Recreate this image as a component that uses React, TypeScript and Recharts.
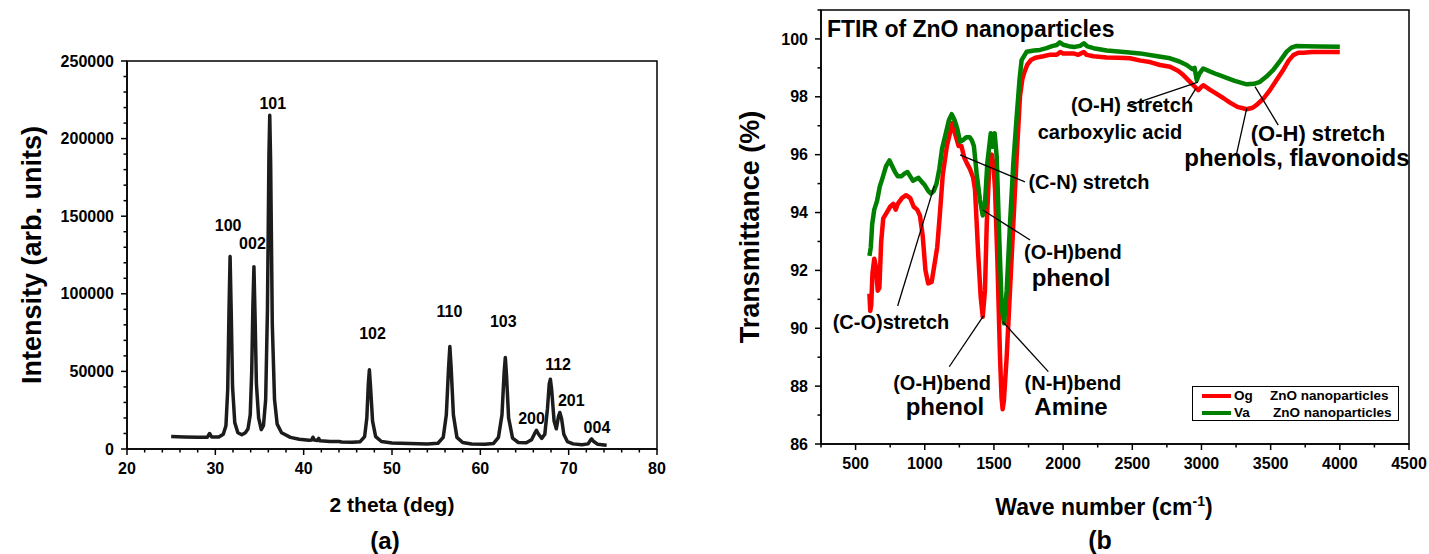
import React from "react";
import {
  ComposedChart,
  Legend,
  Line,
  ReferenceArea,
  ReferenceDot,
  ReferenceLine,
  XAxis,
  YAxis
} from "recharts";

const font = '"Liberation Sans", Arial, Helvetica, sans-serif';

// ---------- (a) XRD pattern: [2 theta (deg), intensity (arb. units)]
const xrdScan: [number, number][] = [
  [25.0, 8000], [26.5, 7700], [28.0, 7500], [29.1, 7600], [29.35, 10000], [29.6, 7700],
  [30.4, 7700], [30.9, 9500], [31.2, 15000], [31.4, 38000], [31.55, 90000], [31.67, 124000],
  [31.8, 88000], [31.95, 40000], [32.2, 17000], [32.55, 10500], [33.0, 9200], [33.4, 10500],
  [33.7, 13000], [33.95, 22000], [34.12, 50000], [34.25, 92000], [34.37, 117500], [34.5, 85000],
  [34.65, 42000], [34.9, 20000], [35.2, 12500], [35.45, 15000], [35.7, 32000], [35.9, 90000],
  [36.07, 190000], [36.16, 215000], [36.26, 185000], [36.45, 80000], [36.7, 32000], [37.0, 16000],
  [37.5, 10500], [38.5, 7500], [39.5, 6300], [40.6, 5600], [40.9, 5800], [41.05, 7600],
  [41.2, 5800], [41.55, 5500], [41.7, 6800], [41.85, 5300], [43.0, 4900], [44.0, 4800],
  [44.3, 4500], [45.5, 4300], [46.4, 4700], [46.9, 8000], [47.15, 20000], [47.32, 42000],
  [47.44, 51000], [47.57, 40000], [47.8, 18000], [48.15, 8000], [48.8, 4800], [50.0, 3900],
  [52.0, 3500], [54.0, 3300], [55.2, 3700], [55.8, 7500], [56.15, 22000], [56.4, 52000],
  [56.55, 66000], [56.7, 52000], [56.95, 22000], [57.35, 7500], [58.0, 4200], [59.0, 3200],
  [60.5, 3000], [61.5, 3600], [62.05, 7500], [62.45, 22000], [62.7, 50000], [62.83, 59000],
  [62.96, 48000], [63.2, 20000], [63.65, 7000], [64.3, 4200], [65.2, 4000], [65.8, 6000],
  [66.15, 10000], [66.35, 12000], [66.6, 9500], [66.95, 6800], [67.3, 9500], [67.6, 26000],
  [67.8, 42000], [67.93, 45000], [68.08, 38000], [68.35, 18000], [68.6, 13000], [68.85, 21000],
  [69.0, 23500], [69.2, 19500], [69.45, 9500], [69.85, 4800], [70.5, 3300], [71.5, 2800],
  [72.2, 3300], [72.45, 5600], [72.6, 6500], [72.8, 5000], [73.3, 3000], [74.0, 2600], [74.3, 2400]
];

// hkl labels and where they are printed
const xrdPeakLabels = [
  { hkl: "100", theta: 31.45, intensity: 144000 },
  { hkl: "002", theta: 34.2, intensity: 132500 },
  { hkl: "101", theta: 36.5, intensity: 222500 },
  { hkl: "102", theta: 47.8, intensity: 74500 },
  { hkl: "110", theta: 56.5, intensity: 88500 },
  { hkl: "103", theta: 62.6, intensity: 82500 },
  { hkl: "200", theta: 65.8, intensity: 20000 },
  { hkl: "112", theta: 68.8, intensity: 54500 },
  { hkl: "201", theta: 70.3, intensity: 31500 },
  { hkl: "004", theta: 73.2, intensity: 14200 }
];

const xrdMajorX = [20, 30, 40, 50, 60, 70, 80];
const xrdMinorX = [22, 24, 26, 28, 32, 34, 36, 38, 42, 44, 46, 48, 52, 54, 56, 58, 62, 64, 66, 68, 72, 74, 76, 78];
const xrdMajorY = [0, 50000, 100000, 150000, 200000, 250000];
const xrdMinorY = [
  10000, 20000, 30000, 40000, 60000, 70000, 80000, 90000, 110000, 120000,
  130000, 140000, 160000, 170000, 180000, 190000, 210000, 220000, 230000, 240000
];

// ---------- (b) FTIR: [wave number (cm-1), transmittance (%)]
const ogScan: [number, number][] = [
  [600, 91.2], [606, 90.6], [613, 90.8], [622, 91.9], [635, 92.4], [648, 92.1], [660, 91.3],
  [672, 91.4], [685, 93.0], [700, 93.8], [725, 94.0], [750, 94.2], [772, 94.3], [790, 94.1],
  [805, 94.3], [835, 94.5], [865, 94.6], [895, 94.5], [920, 94.2], [945, 94.1], [965, 93.9],
  [985, 93.2], [1005, 92.0], [1025, 91.55], [1050, 91.6], [1070, 92.2], [1090, 92.8],
  [1110, 94.0], [1130, 95.3], [1160, 96.3], [1185, 96.8], [1200, 97.1], [1220, 96.7],
  [1245, 96.3], [1265, 96.3], [1285, 95.9], [1305, 95.7], [1327, 95.5], [1350, 95.2],
  [1363, 94.8], [1387, 92.5], [1404, 91.1], [1419, 90.4], [1435, 91.3], [1448, 93.6],
  [1467, 95.7], [1484, 96.0], [1496, 95.7], [1508, 94.8], [1524, 92.5], [1544, 89.0],
  [1555, 87.6], [1563, 87.2], [1572, 87.5], [1592, 89.0], [1616, 91.3], [1640, 93.6],
  [1664, 95.9], [1688, 98.0], [1705, 98.6], [1720, 98.85], [1740, 99.1], [1767, 99.27],
  [1800, 99.35], [1857, 99.4], [1900, 99.45], [1954, 99.45], [1980, 99.55], [2000, 99.5],
  [2030, 99.5], [2074, 99.5], [2110, 99.45], [2150, 99.55], [2170, 99.45], [2220, 99.4],
  [2315, 99.36], [2400, 99.35], [2483, 99.33], [2560, 99.25], [2628, 99.2], [2700, 99.1],
  [2773, 99.04], [2830, 98.9], [2869, 98.75], [2910, 98.55], [2941, 98.4], [2977, 98.23],
  [3000, 98.35], [3013, 98.4], [3060, 98.25], [3110, 98.1], [3160, 97.95], [3206, 97.8],
  [3260, 97.65], [3327, 97.57], [3370, 97.62], [3399, 97.72], [3450, 97.95], [3495, 98.23],
  [3545, 98.6], [3591, 98.93], [3630, 99.25], [3664, 99.44], [3700, 99.52], [3736, 99.52],
  [3800, 99.55], [3900, 99.55], [4000, 99.55]
];

const vaScan: [number, number][] = [
  [600, 92.5], [610, 92.8], [620, 93.6], [635, 94.1], [655, 94.4], [675, 94.9], [695, 95.2],
  [720, 95.6], [745, 95.8], [765, 95.6], [785, 95.4], [805, 95.25], [830, 95.25], [855, 95.35],
  [875, 95.4], [895, 95.25], [915, 95.1], [935, 95.15], [955, 95.2], [980, 95.05], [1000, 94.95],
  [1025, 94.75], [1045, 94.65], [1065, 94.75], [1085, 95.0], [1105, 95.5], [1125, 96.2],
  [1150, 96.7], [1175, 97.2], [1195, 97.4], [1215, 97.2], [1235, 96.9], [1255, 96.45],
  [1275, 96.5], [1300, 96.6], [1325, 96.6], [1340, 96.5], [1355, 96.3], [1375, 95.35],
  [1399, 94.43], [1419, 93.9], [1435, 94.3], [1452, 95.7], [1477, 96.74], [1491, 96.27],
  [1505, 96.74], [1520, 95.93], [1539, 93.05], [1556, 90.74], [1573, 90.17], [1592, 91.3],
  [1616, 93.6], [1640, 95.7], [1664, 97.3], [1685, 98.6], [1700, 99.27], [1737, 99.56],
  [1790, 99.6], [1833, 99.62], [1880, 99.68], [1920, 99.75], [1954, 99.79], [1975, 99.88],
  [2000, 99.8], [2040, 99.75], [2080, 99.72], [2122, 99.76], [2150, 99.85], [2175, 99.74],
  [2220, 99.68], [2315, 99.6], [2440, 99.55], [2556, 99.5], [2660, 99.42], [2773, 99.33],
  [2840, 99.22], [2893, 99.1], [2935, 98.95], [2950, 99.0], [2966, 98.58], [2985, 98.8],
  [3013, 98.98], [3060, 98.88], [3110, 98.78], [3158, 98.7], [3240, 98.55], [3327, 98.43],
  [3380, 98.45], [3423, 98.52], [3470, 98.7], [3519, 98.93], [3570, 99.25], [3616, 99.56],
  [3650, 99.7], [3688, 99.76], [3750, 99.75], [3850, 99.74], [4000, 99.73]
];

const ftirSamples = ["Og", "Va"];

const ftirMajorX = [500, 1000, 1500, 2000, 2500, 3000, 3500, 4000, 4500];
const ftirMinorX = [250, 750, 1250, 1750, 2250, 2750, 3250, 3750, 4250];
const ftirMajorY = [86, 88, 90, 92, 94, 96, 98, 100];
const ftirMinorY = [87, 89, 91, 93, 95, 97, 99, 101];

// band assignments, anchored at (x, y); kind picks the print size
const ftirNotes = [
  { text: "(O-H) stretch", x: 2498, y: 97.72, kind: "small" },
  { text: "carboxylic acid", x: 2339, y: 96.78, kind: "small" },
  { text: "(O-H) stretch", x: 3842, y: 96.75, kind: "medium" },
  { text: "phenols, flavonoids", x: 3690, y: 95.92, kind: "large" },
  { text: "(C-N) stretch", x: 2187, y: 95.05, kind: "small" },
  { text: "(O-H)bend", x: 2071, y: 92.64, kind: "small" },
  { text: "phenol", x: 2057, y: 91.77, kind: "large" },
  { text: "(C-O)stretch", x: 756, y: 90.21, kind: "small" },
  { text: "(O-H)bend", x: 1125, y: 88.11, kind: "small" },
  { text: "phenol", x: 1146, y: 87.31, kind: "large" },
  { text: "(N-H)bend", x: 2071, y: 88.11, kind: "small" },
  { text: "Amine", x: 2057, y: 87.28, kind: "large" }
];

// leader lines from the notes to the bands: [x1, y1, x2, y2]
const ftirLeaders: [number, number, number, number][] = [
  [2462, 97.68, 2975, 98.51],
  [2896, 97.79, 2961, 98.3],
  [3387, 98.35, 3555, 97.02],
  [3327, 97.6, 3255, 96.05],
  [1255, 95.99, 1724, 95.06],
  [1419, 94.09, 1761, 93.05],
  [804, 90.77, 1069, 94.92],
  [1177, 88.67, 1423, 90.42],
  [1563, 90.23, 1893, 88.5]
];

const noteSize: Record<string, number> = { small: 20, medium: 22, large: 24 };

const toPoints = (rows: [number, number][]) => rows.map(([x, y]) => ({ x, y }));

const textProps = { fontFamily: font, fontWeight: "bold", fill: "#000" } as const;

// ticks: Recharts hands over the label anchor (axis + tickSize 6 + tickMargin 4),
// the tick marks themselves are drawn here so minor ticks can be shorter
const bottomTick = (majors: number[]) => (props: any) => {
  const { x, y, payload } = props;
  const axisY = y - 10;
  const major = majors.includes(payload.value);
  return (
    <g>
      <line x1={x} x2={x} y1={axisY} y2={axisY + (major ? 6 : 3.5)} stroke="#000" strokeWidth={1.5} />
      {major && (
        <text x={x} y={axisY + 25} textAnchor="middle" fontSize={16} {...textProps}>
          {payload.value}
        </text>
      )}
    </g>
  );
};

const leftTick = (majors: number[]) => (props: any) => {
  const { x, y, payload } = props;
  const axisX = x + 10;
  const major = majors.includes(payload.value);
  return (
    <g>
      <line x1={axisX - (major ? 6 : 3.5)} x2={axisX} y1={y} y2={y} stroke="#000" strokeWidth={1.5} />
      {major && (
        <text x={axisX - 13} y={y} dy="0.35em" textAnchor="end" fontSize={16} {...textProps}>
          {payload.value}
        </text>
      )}
    </g>
  );
};

const axisLine = { stroke: "#000", strokeWidth: 1.5 };

function XrdChart() {
  const left = 127;
  const right = 657;
  const top = 61;
  const bottom = 449;
  const midX = (left + right) / 2;
  const midY = (top + bottom) / 2;
  return (
    <ComposedChart width={700} height={554} margin={{ top, right: 700 - right, bottom: 0, left: left - 60 }}>
      <XAxis
        dataKey="x"
        type="number"
        domain={[20, 80]}
        allowDataOverflow
        ticks={[...xrdMajorX, ...xrdMinorX].sort((a, b) => a - b)}
        interval={0}
        tick={bottomTick(xrdMajorX)}
        tickLine={false}
        tickSize={6}
        tickMargin={4}
        axisLine={axisLine}
        height={554 - bottom}
        label={{
          content: () => (
            <g>
              <text x={midX} y={bottom + 63} textAnchor="middle" fontSize={21} {...textProps}>
                2 theta (deg)
              </text>
              <text x={midX - 7} y={bottom + 100} textAnchor="middle" fontSize={24} {...textProps}>
                (a)
              </text>
            </g>
          )
        }}
      />
      <YAxis
        dataKey="y"
        type="number"
        domain={[0, 250000]}
        allowDataOverflow
        ticks={[...xrdMajorY, ...xrdMinorY].sort((a, b) => a - b)}
        interval={0}
        tick={leftTick(xrdMajorY)}
        tickLine={false}
        tickSize={6}
        tickMargin={4}
        axisLine={axisLine}
        width={60}
        label={{
          content: () => (
            <text
              x={32}
              y={midY}
              dy="0.35em"
              textAnchor="middle"
              fontSize={27}
              transform={`rotate(-90 32 ${midY})`}
              {...textProps}
            >
              Intensity (arb. units)
            </text>
          )
        }}
      />
      <ReferenceArea x1={20} x2={80} y1={0} y2={250000} fill="none" stroke="#000" strokeWidth={1.5} />
      <Line
        data={toPoints(xrdScan)}
        dataKey="y"
        type="linear"
        stroke="#1c1c1c"
        strokeWidth={3.5}
        strokeLinejoin="round"
        dot={false}
        isAnimationActive={false}
      />
      {xrdPeakLabels.map((p) => (
        <ReferenceDot
          key={p.hkl}
          x={p.theta}
          y={p.intensity}
          r={0}
          fill="none"
          stroke="none"
          label={{ value: p.hkl, position: "center", fontSize: 16, ...textProps }}
        />
      ))}
    </ComposedChart>
  );
}

function FtirLegend(props: any) {
  const items = props.payload || [];
  return (
    <div
      style={{
        width: 205,
        height: 33,
        border: "1px solid #000",
        background: "#fff",
        position: "relative",
        fontFamily: font,
        fontWeight: "bold",
        fontSize: 13.5,
        color: "#000"
      }}
    >
      {items.map((entry: any, i: number) => (
        <div key={entry.value} style={{ position: "absolute", left: 0, top: 1 + i * 17, height: 16, width: 205 }}>
          <span
            style={{ position: "absolute", left: 9, top: 6, width: 29, height: 4, background: entry.color }}
          />
          <span style={{ position: "absolute", left: 41, top: 0, lineHeight: "16px" }}>{entry.value}</span>
          <span style={{ position: "absolute", left: 77 + i * 3, top: 0, lineHeight: "16px" }}>
            ZnO nanoparticles
          </span>
        </div>
      ))}
    </div>
  );
}

function FtirChart() {
  const left = 121;
  const right = 709;
  const top = 10;
  const bottom = 444;
  const midX = (left + right) / 2;
  const midY = (top + bottom) / 2;
  const colors = ["#ff0000", "#008000"];
  return (
    <ComposedChart width={729} height={554} margin={{ top, right: 729 - right, bottom: 0, left: left - 50 }}>
      <XAxis
        dataKey="x"
        type="number"
        domain={[250, 4500]}
        allowDataOverflow
        ticks={[...ftirMajorX, ...ftirMinorX].sort((a, b) => a - b)}
        interval={0}
        tick={bottomTick(ftirMajorX)}
        tickLine={false}
        tickSize={6}
        tickMargin={4}
        axisLine={axisLine}
        height={554 - bottom}
        label={{
          content: () => (
            <g>
              <text x={midX - 11} y={bottom + 71} textAnchor="middle" fontSize={23} {...textProps}>
                Wave number (cm
                <tspan dy={-9} fontSize={14}>
                  -1
                </tspan>
                <tspan dy={9}>)</tspan>
              </text>
              <text x={midX - 15} y={bottom + 105} textAnchor="middle" fontSize={25} {...textProps}>
                (b
              </text>
            </g>
          )
        }}
      />
      <YAxis
        dataKey="y"
        type="number"
        domain={[86, 101]}
        allowDataOverflow
        ticks={[...ftirMajorY, ...ftirMinorY].sort((a, b) => a - b)}
        interval={0}
        tick={leftTick(ftirMajorY)}
        tickLine={false}
        tickSize={6}
        tickMargin={4}
        axisLine={axisLine}
        width={50}
        label={{
          content: () => (
            <text
              x={50}
              y={midY}
              dy="0.35em"
              textAnchor="middle"
              fontSize={27}
              transform={`rotate(-90 50 ${midY})`}
              {...textProps}
            >
              Transmittance (%)
            </text>
          )
        }}
      />
      <ReferenceArea x1={250} x2={4500} y1={86} y2={101} fill="none" stroke="#000" strokeWidth={1.5} />
      {[ogScan, vaScan].map((scan, i) => (
        <Line
          key={ftirSamples[i]}
          name={ftirSamples[i]}
          data={toPoints(scan)}
          dataKey="y"
          type="linear"
          stroke={colors[i]}
          strokeWidth={4.5}
          strokeLinejoin="round"
          dot={false}
          isAnimationActive={false}
        />
      ))}
      {ftirLeaders.map(([x1, y1, x2, y2], i) => (
        <ReferenceLine
          key={`lead-${i}`}
          segment={[
            { x: x1, y: y1 },
            { x: x2, y: y2 }
          ]}
          stroke="#000"
          strokeWidth={1.3}
        />
      ))}
      <ReferenceDot
        x={293}
        y={100.34}
        r={0}
        fill="none"
        stroke="none"
        label={{ value: "FTIR of ZnO nanoparticles", position: "right", offset: 0, fontSize: 23, ...textProps }}
      />
      {ftirNotes.map((n, i) => (
        <ReferenceDot
          key={`note-${i}`}
          x={n.x}
          y={n.y}
          r={0}
          fill="none"
          stroke="none"
          label={{ value: n.text, position: "center", fontSize: noteSize[n.kind], ...textProps }}
        />
      ))}
      <Legend
        layout="horizontal"
        align="center"
        verticalAlign="middle"
        content={FtirLegend}
        wrapperStyle={{ left: 492, top: 386, right: "auto", bottom: "auto", width: 207, height: 35 }}
      />
    </ComposedChart>
  );
}

export default function App() {
  return (
    <div style={{ position: "absolute", left: 0, top: 0, width: 1429, height: 554, background: "#fff", fontFamily: font }}>
      <div style={{ position: "absolute", left: 0, top: 0 }}>
        <XrdChart />
      </div>
      <div style={{ position: "absolute", left: 700, top: 0 }}>
        <FtirChart />
      </div>
    </div>
  );
}
